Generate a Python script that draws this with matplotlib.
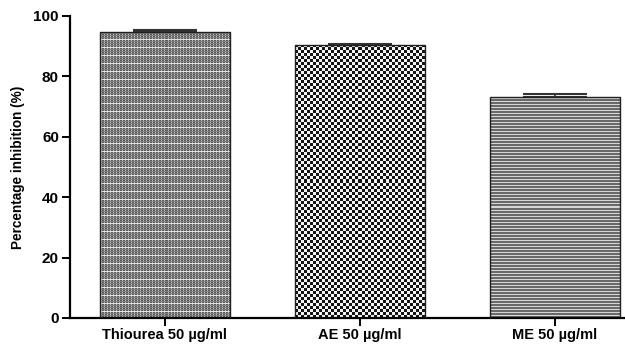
import numpy as np
import matplotlib
matplotlib.use("Agg")
import matplotlib.pyplot as plt

plt.rcParams['font.family'] = ['Liberation Sans', 'DejaVu Sans']

# tyrosinase inhibition at 50 µg/ml
groups = ['Thiourea 50 µg/ml', 'AE 50 µg/ml', 'ME 50 µg/ml']
inhibition = [94.6, 90.4, 73.3]
sem = [0.8, 0.3, 0.9]
yticks = [0, 20, 40, 60, 80, 100]

# grey-level tiles used to fill each bar
tile_dots = np.array([[90, 190, 90]] * 1 + [[130, 130, 130]] + [[90, 190, 90]] + [[130, 130, 130]]
                     + [[90, 190, 90]] + [[130, 130, 130]] + [[90, 190, 90]] + [[225, 225, 225]])
tile_check = np.kron(np.array([[20, 245], [245, 20]]), np.ones((3, 3)))
tile_lines = np.array([[105], [105], [215]]) * np.ones((1, 3))
tiles = [tile_dots, tile_check, tile_lines]

fig = plt.figure(figsize=(6.25, 3.44), dpi=100)
ax = fig.add_axes([0.112, 0.0756, 0.888, 0.878])

x = np.arange(len(groups))
bars = ax.bar(x, inhibition, width=0.667, color='none', edgecolor='#202020',
              linewidth=1.0, zorder=3)
ax.errorbar(x, inhibition, yerr=[np.zeros(3), sem], fmt='none', ecolor='#333333',
            elinewidth=1.2, capsize=23, capthick=1.5, zorder=2)

ax.set_xlim(-0.487, 2.36)
ax.set_ylim(0, 100)
ax.set_yticks(yticks)
ax.set_xticks(x)
ax.set_xticklabels(groups, fontsize=10.5, fontweight='bold')
for lab in ax.get_yticklabels():
    lab.set_fontsize(11)
    lab.set_fontweight('bold')
ax.set_ylabel('Percentage inhibition (%)', fontsize=9.8, fontweight='bold', labelpad=6)

for s in ['top', 'right']:
    ax.spines[s].set_visible(False)
ax.spines['left'].set_linewidth(1.6)
ax.spines['bottom'].set_linewidth(1.6)
ax.tick_params(axis='both', width=1.4, length=6, pad=2)
ax.tick_params(axis='x', pad=1.5)

# fill bars with pixel-aligned textures
fig.canvas.draw()
for bar, tile in zip(bars, tiles):
    x0, y0 = bar.get_x(), 0
    x1, y1 = x0 + bar.get_width(), bar.get_height()
    p0 = ax.transData.transform((x0, y0))
    p1 = ax.transData.transform((x1, y1))
    w = int(round(p1[0] - p0[0]))
    h = int(round(p1[1] - p0[1]))
    reps = (h // tile.shape[0] + 1, w // tile.shape[1] + 1)
    img = np.tile(tile, reps)[:h, :w]
    im = ax.imshow(img, cmap='gray', vmin=0, vmax=255, extent=(x0, x1, y0, y1),
                   interpolation='nearest', aspect='auto', zorder=1)
    im.set_clip_path(bar)

ax.set_xlim(-0.487, 2.36)
ax.set_ylim(0, 100)

fig.savefig('out.png', dpi=100)
